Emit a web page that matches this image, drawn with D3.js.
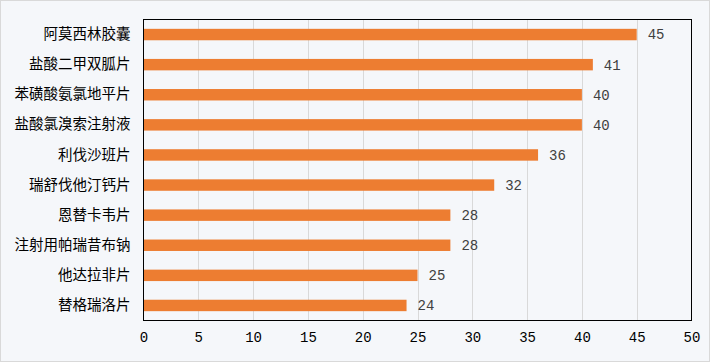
<!DOCTYPE html>
<html>
<head>
<meta charset="utf-8">
<script src="https://cdn.jsdelivr.net/npm/d3@7"></script>
<style>
	body { margin: 0; background: #fff; }
	svg { display: block; }
</style>
</head>
<body>
<svg id="chart" width="710" height="362"></svg>
<script>
"use strict";

// DATA
const drugs = [
	"阿莫西林胶囊",
	"盐酸二甲双胍片",
	"苯磺酸氨氯地平片",
	"盐酸氯溴索注射液",
	"利伐沙班片",
	"瑞舒伐他汀钙片",
	"恩替卡韦片",
	"注射用帕瑞昔布钠",
	"他达拉非片",
	"替格瑞洛片",
];
const counts = [45, 41, 40, 40, 36, 32, 28, 28, 25, 24];
const xTicks = [0, 5, 10, 15, 20, 25, 30, 35, 40, 45, 50];

const width = 710;
const height = 362;
const plot = { left: 143.5, right: 691.5, top: 19.5, bottom: 320.5 };
const barColor = "#ed7d31";

const svg = d3.select("#chart");

// background + outer frame
svg.append("rect")
	.attr("x", 0.5)
	.attr("y", 0.5)
	.attr("width", width - 1)
	.attr("height", height - 1)
	.style("fill", "#f5f7fa")
	.style("stroke", "#d9d9d9");

const x = d3.scaleLinear().domain([0, 50]).range([plot.left, plot.right]);
const y = d3
	.scaleBand()
	.domain(drugs)
	.range([plot.top, plot.bottom])
	.paddingInner(0.62)
	.paddingOuter(0.31);

// vertical grid
svg.append("g")
	.selectAll("line")
	.data(xTicks.slice(1, -1))
	.enter()
	.append("line")
	.attr("x1", (d) => Math.round(x(d)) + 0.5)
	.attr("x2", (d) => Math.round(x(d)) + 0.5)
	.attr("y1", plot.top)
	.attr("y2", plot.bottom)
	.style("stroke", "#d9d9d9");

// bars
svg.append("g")
	.selectAll("rect")
	.data(counts)
	.enter()
	.append("rect")
	.attr("x", x(0))
	.attr("y", (d, i) => y(drugs[i]))
	.attr("width", (d) => x(d) - x(0))
	.attr("height", y.bandwidth())
	.style("fill", barColor);

// value labels
svg.append("g")
	.selectAll("text")
	.data(counts)
	.enter()
	.append("text")
	.attr("x", (d) => x(d) + 11)
	.attr("y", (d, i) => y(drugs[i]) + y.bandwidth() / 2)
	.attr("dy", "0.35em")
	.style("font-family", "'Liberation Mono', monospace")
	.style("font-size", "14px")
	.style("fill", "#404040")
	.text((d) => d);

// plot frame
svg.append("rect")
	.attr("x", plot.left)
	.attr("y", plot.top)
	.attr("width", plot.right - plot.left)
	.attr("height", plot.bottom - plot.top)
	.style("fill", "none")
	.style("stroke", "#000");

// category axis
const yAxis = svg
	.append("g")
	.attr("transform", `translate(${plot.left},0)`)
	.call(d3.axisLeft(y).tickSize(0).tickPadding(13));
yAxis.select(".domain").remove();
yAxis.selectAll("text")
	.style("font-family", "'Noto Sans CJK SC', sans-serif")
	.style("font-size", "14.5px")
	.style("fill", "#000");

// value axis
const xAxis = svg
	.append("g")
	.attr("transform", `translate(0,${plot.bottom})`)
	.call(d3.axisBottom(x).tickValues(xTicks).tickSize(0).tickPadding(12));
xAxis.select(".domain").remove();
xAxis.selectAll("text")
	.style("font-family", "'Liberation Mono', monospace")
	.style("font-size", "14px")
	.style("fill", "#000");
</script>
</body>
</html>
